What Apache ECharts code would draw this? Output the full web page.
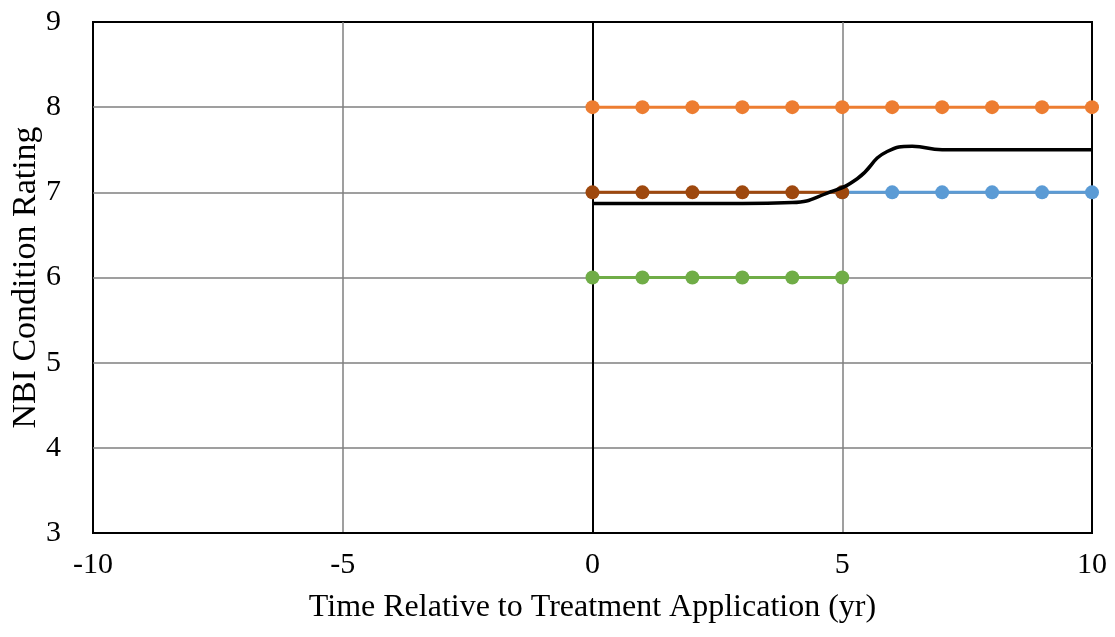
<!DOCTYPE html>
<html>
<head>
<meta charset="utf-8">
<script src="https://cdn.jsdelivr.net/npm/echarts@6/dist/echarts.min.js"></script>
<style>
  html, body { margin: 0; padding: 0; background: #fff; }
  #main { width: 1115px; height: 637px; }
</style>
</head>
<body>
<div id="main"></div>
<script>
  // years relative to treatment
  const yearsAll = [0, 1, 2, 3, 4, 5, 6, 7, 8, 9, 10];
  const yearsBefore = [0, 1, 2, 3, 4, 5];
  const yearsAfter = [5, 6, 7, 8, 9, 10];

  // NBI condition ratings
  const orangeRatings = [8, 8, 8, 8, 8, 8, 8, 8, 8, 8, 8];
  const brownRatings = [7, 7, 7, 7, 7, 7];
  const blueRatings = [7, 7, 7, 7, 7, 7];
  const greenRatings = [6, 6, 6, 6, 6, 6];

  // black smoothed curve
  const averageYears = [0, 1, 2, 3, 4, 4.7, 5.3, 5.9, 6.4, 7, 8, 9, 10];
  const averageRatings = [6.87, 6.87, 6.87, 6.87, 6.88, 6.99, 7.16, 7.48, 7.54, 7.5, 7.5, 7.5, 7.5];

  const xTicks = { min: -10, max: 10, interval: 5 };
  const yTicks = { min: 3, max: 9, interval: 1 };

  function pairs(xs, ys) {
    return xs.map((x, i) => [x, ys[i]]);
  }

  const font = 'Liberation Serif, Times New Roman, serif';

  function dotted(name, color, data) {
    return {
      name: name,
      type: 'line',
      data: data,
      symbol: 'circle',
      symbolSize: 14,
      lineStyle: { color: color, width: 3 },
      itemStyle: { color: color },
      z: 3
    };
  }

  const gridLine = {
    show: true,
    showMinLine: false,
    showMaxLine: false,
    lineStyle: { color: '#7f7f7f', width: 1.5 }
  };

  const myChart = echarts.init(document.getElementById('main'));
  myChart.setOption({
    animation: false,
    backgroundColor: '#fff',
    grid: {
      left: 93, right: 23, top: 22, bottom: 104,
      outerBoundsMode: 'none',
      containLabel: false,
      show: true, borderColor: '#000', borderWidth: 2
    },
    xAxis: {
      type: 'value',
      min: xTicks.min, max: xTicks.max, interval: xTicks.interval,
      name: 'Time Relative to Treatment Application (yr)',
      nameLocation: 'middle',
      nameGap: 59,
      nameMoveOverlap: false,
      nameTextStyle: { fontFamily: font, fontSize: 32, color: '#000' },
      axisLine: { lineStyle: { color: '#000', width: 2 } },
      axisTick: { show: false },
      axisLabel: { fontFamily: font, fontSize: 30, color: '#000', margin: 17 },
      splitLine: gridLine
    },
    yAxis: {
      type: 'value',
      min: yTicks.min, max: yTicks.max, interval: yTicks.interval,
      name: 'NBI Condition Rating',
      nameLocation: 'middle',
      nameGap: 50,
      nameMoveOverlap: false,
      nameTextStyle: { fontFamily: font, fontSize: 34, color: '#000' },
      axisLine: { show: true, lineStyle: { color: '#000', width: 2 } },
      axisTick: { show: false },
      axisLabel: { fontFamily: font, fontSize: 30, color: '#000', margin: 32 },
      splitLine: gridLine
    },
    series: [
      dotted('After (blue)', '#5B9BD5', pairs(yearsAfter, blueRatings)),
      Object.assign(dotted('Orange', '#ED7D31', pairs(yearsAll, orangeRatings)), {
        markLine: {
          silent: true,
          symbol: 'none',
          label: { show: false },
          lineStyle: { color: '#000', width: 2, type: 'solid' },
          data: [{ xAxis: 0 }],
          z: 2
        }
      }),
      dotted('Green', '#70AD47', pairs(yearsBefore, greenRatings)),
      dotted('Brown', '#9E480E', pairs(yearsBefore, brownRatings)),
      {
        name: 'Average',
        type: 'line',
        data: pairs(averageYears, averageRatings),
        smooth: 0.5,
        symbol: 'none',
        lineStyle: { color: '#000', width: 3.5 },
        z: 4
      }
    ]
  });
  window.addEventListener('resize', () => {
    myChart.resize();
  });
</script>
</body>
</html>
